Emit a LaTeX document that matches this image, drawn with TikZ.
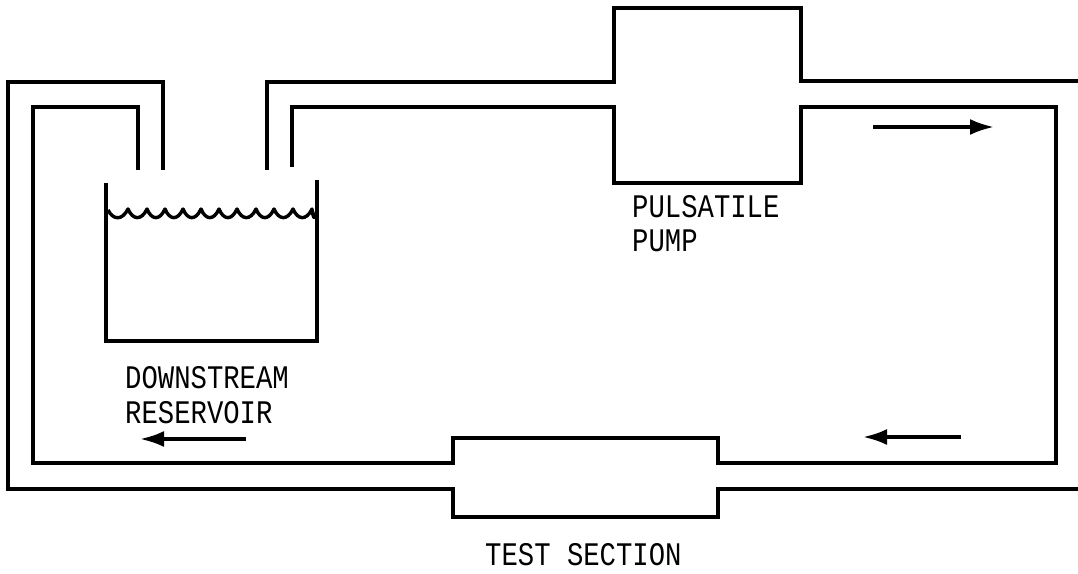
\documentclass[tikz,border=0pt]{standalone}
\usepackage{fontspec}
\setmainfont{Liberation Mono}
\usetikzlibrary{arrows.meta}
\tikzset{
  pipe/.style={line width=3.2pt,line join=miter,line cap=butt},
  flow/.style={line width=3.4pt,-{Latex[length=24pt,width=16pt]}},
  lbl/.style={anchor=base west,inner sep=0pt,font=\fontsize{27}{27}\selectfont,yscale=1.22,xscale=1.01}
}
\begin{document}
\begin{tikzpicture}[x=1pt,y=-1pt]
\useasboundingbox (0,0) rectangle (1078,573);
% free ends of the pipes
\coordinate (oa) at (163,170);
\coordinate (ia) at (138,170);
\coordinate (ob) at (267,170);
\coordinate (ib) at (292,167);
\coordinate (oe) at (1078,81);
\coordinate (oc) at (1078,489);
% outer wall, left leg and return
\draw[pipe] (oa) -- (163,82) -- (8,82) -- (8,489) -- (453,489) -- (453,517) -- (718,517) -- (718,489) -- (oc);
% inner wall, left leg and return
\draw[pipe] (ia) -- (138,107) -- (33,107) -- (33,463) -- (453,463) -- (453,438) -- (718,438) -- (718,463) -- (1056,463) -- (1056,107) -- (801,107) -- (801,183) -- (614,183) -- (614,107) -- (292,107) -- (ib);
% outer wall, top with pump
\draw[pipe] (ob) -- (267,82) -- (614,82) -- (614,8) -- (801,8) -- (801,81) -- (oe);
% reservoir
\draw[pipe] (106,183) -- (106,341) -- (317,341) -- (317,180);
% water surface
\draw[line width=3.4pt,line join=round] (108,210)
  \foreach \a/\b in {108/128,128/147,147/165,165/183,183/201,201/219,219/237,237/256,256/274,274/293,293/312,312/317}{
    .. controls ({\a+0.25*(\b-\a)},220) and ({\a+0.7*(\b-\a)},221) .. (\b,209)
  };
% flow arrows
\coordinate (f1a) at (873,127); \coordinate (f1b) at (994,127);
\coordinate (f2a) at (961,437); \coordinate (f2b) at (863,437);
\coordinate (f3a) at (246,439); \coordinate (f3b) at (140,439);
\draw[flow] (f1a) -- (f1b);
\draw[flow] (f2a) -- (f2b);
\draw[flow] (f3a) -- (f3b);
% labels
\node[lbl] (l1) at (632,217) {PULSATILE};
\node[lbl] (l2) at (632,251) {PUMP};
\node[lbl] (l3) at (125,388) {DOWNSTREAM};
\node[lbl] (l4) at (125,423) {RESERVOIR};
\node[lbl] (l5) at (485,565) {TEST SECTION};
\end{tikzpicture}
\end{document}
